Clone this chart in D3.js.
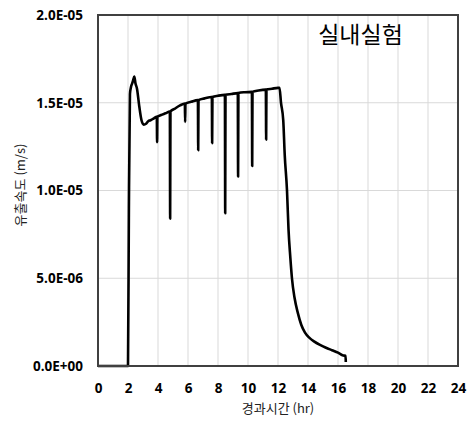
<!DOCTYPE html>
<html>
<head>
<meta charset="utf-8">
<script src="https://cdn.jsdelivr.net/npm/d3@7"></script>
<style>
  body { margin: 0; background: #fff; }
  svg { display: block; }
</style>
</head>
<body>
<svg id="chart" width="468" height="421"></svg>
<script>

// elapsed time (hr)
let timeHr = [
  0, 2.0, 2.06, 2.13, 2.2, 2.28, 2.35, 2.42, 2.5, 2.6, 2.75, 2.9, 3.05, 3.2, 3.35, 3.5, 3.7,
  3.92, 3.94, 3.96,
  4.2, 4.5,
  4.79, 4.81, 4.83,
  5.1, 5.47,
  5.79, 5.81, 5.83,
  6.2,
  6.66, 6.68, 6.7,
  7.1,
  7.59, 7.61, 7.63,
  8.0,
  8.46, 8.48, 8.5,
  8.9,
  9.32, 9.34, 9.36,
  9.8,
  10.26, 10.28, 10.3,
  10.7,
  11.19, 11.21, 11.23,
  11.6, 12.0, 12.1, 12.2, 12.35, 12.45, 12.6, 12.7, 12.82, 12.93, 13.1, 13.33, 13.55, 13.8,
  14.1, 14.4, 14.8, 15.2, 15.6, 16.0, 16.35, 16.5, 16.52
];

// outflow velocity (m/s)
let velocity = [
  0, 0, 9.0e-6, 1.55e-5, 1.59e-5, 1.61e-5, 1.63e-5, 1.65e-5, 1.61e-5, 1.58e-5, 1.48e-5, 1.4e-5, 1.375e-5, 1.38e-5, 1.395e-5, 1.4e-5, 1.41e-5,
  1.42e-5, 1.276e-5, 1.42e-5,
  1.43e-5, 1.44e-5,
  1.45e-5, 8.4e-6, 1.45e-5,
  1.465e-5, 1.485e-5,
  1.495e-5, 1.39e-5, 1.495e-5,
  1.505e-5,
  1.515e-5, 1.23e-5, 1.515e-5,
  1.525e-5,
  1.533e-5, 1.27e-5, 1.533e-5,
  1.54e-5,
  1.545e-5, 8.7e-6, 1.545e-5,
  1.55e-5,
  1.555e-5, 1.08e-5, 1.555e-5,
  1.56e-5,
  1.562e-5, 1.14e-5, 1.562e-5,
  1.57e-5,
  1.575e-5, 1.29e-5, 1.575e-5,
  1.58e-5, 1.585e-5, 1.585e-5, 1.5e-5, 1.4e-5, 1.2e-5, 1.0e-5, 7.8e-6, 6.2e-6, 5.0e-6, 3.9e-6, 3.0e-6, 2.35e-6, 1.9e-6,
  1.6e-6, 1.4e-6, 1.2e-6, 1.04e-6, 9.0e-7, 7.6e-7, 6.0e-7, 5.8e-7, 2.3e-7
];

let xTicks = [0, 2, 4, 6, 8, 10, 12, 14, 16, 18, 20, 22, 24];
let yTicks = [0, 5e-6, 1e-5, 1.5e-5, 2e-5];
let yTickLabels = ['0.0E+00', '5.0E-06', '1.0E-05', '1.5E-05', '2.0E-05'];

let svg = d3.select('#chart');

let margin = {left: 98, right: 10, top: 15, bottom: 55};
let w = 468 - margin.left - margin.right;
let h = 421 - margin.top - margin.bottom;

let x = d3.scaleLinear()
    .domain([0, 24])
    .range([0, w]);

let y = d3.scaleLinear()
    .domain([0, 2e-5])
    .range([h, 0]);

let g = svg.append('g')
    .attr('transform', 'translate(' + margin.left + ',' + margin.top + ')');

// gridlines
g.append('g')
    .attr('class', 'grid-x')
  .selectAll('line')
  .data(xTicks.slice(1, -1))
  .enter().append('line')
    .attr('x1', function(d){ return x(d); })
    .attr('x2', function(d){ return x(d); })
    .attr('y1', 0)
    .attr('y2', h)
    .attr('stroke', '#d9d9d9')
    .attr('stroke-width', 1);

g.append('g')
    .attr('class', 'grid-y')
  .selectAll('line')
  .data(yTicks.slice(1, -1))
  .enter().append('line')
    .attr('x1', 0)
    .attr('x2', w)
    .attr('y1', function(d){ return y(d); })
    .attr('y2', function(d){ return y(d); })
    .attr('stroke', '#d9d9d9')
    .attr('stroke-width', 1);

// axes (labels only, frame drawn separately)
let xAxis = g.append('g')
    .attr('transform', 'translate(0,' + h + ')')
    .call(d3.axisBottom(x).tickValues(xTicks).tickSize(0).tickPadding(17).tickFormat(d3.format('d')));
xAxis.select('.domain').remove();
xAxis.selectAll('text')
    .attr('font-family', 'Open Sans, Liberation Sans, sans-serif')
    .attr('font-weight', 'bold')
    .attr('font-size', 13.5)
    .attr('fill', '#000');

let yAxis = g.append('g')
    .call(d3.axisLeft(y).tickValues(yTicks).tickSize(0).tickPadding(15)
      .tickFormat(function(d, i){ return yTickLabels[i]; }));
yAxis.select('.domain').remove();
yAxis.selectAll('text')
    .attr('font-family', 'Open Sans, Liberation Sans, sans-serif')
    .attr('font-weight', 'bold')
    .attr('font-size', 13.5)
    .attr('fill', '#000');

// data line
let line = d3.line()
    .curve(d3.curveMonotoneX)
    .x(function(d){ return x(d[0]); })
    .y(function(d){ return y(d[1]); });

g.append('path')
    .datum(d3.zip(timeHr, velocity))
    .attr('fill', 'none')
    .attr('stroke', '#000')
    .attr('stroke-width', 2.6)
    .attr('stroke-linejoin', 'round')
    .attr('d', line);

// frame
g.append('rect')
    .attr('x', 0)
    .attr('y', 0)
    .attr('width', w)
    .attr('height', h)
    .attr('fill', 'none')
    .attr('stroke', '#404040')
    .attr('stroke-width', 2);

// in-chart title
g.append('text')
    .attr('x', x(17.5))
    .attr('y', 28)
    .attr('text-anchor', 'middle')
    .attr('font-family', 'Noto Sans CJK KR, sans-serif')
    .attr('font-size', 23)
    .attr('fill', '#000')
    .text('실내실험');

// axis titles
svg.append('text')
    .attr('x', margin.left + x(12))
    .attr('y', 413)
    .attr('text-anchor', 'middle')
    .attr('font-family', 'Noto Sans CJK KR, sans-serif')
    .attr('font-size', 13)
    .attr('fill', '#222')
    .text('경과시간 (hr)');

svg.append('text')
    .attr('transform', 'translate(25,185) rotate(-90)')
    .attr('text-anchor', 'middle')
    .attr('font-family', 'Noto Sans CJK KR, sans-serif')
    .attr('font-size', 13)
    .attr('fill', '#222')
    .text('유출속도 (m/s)');

</script>
</body>
</html>
